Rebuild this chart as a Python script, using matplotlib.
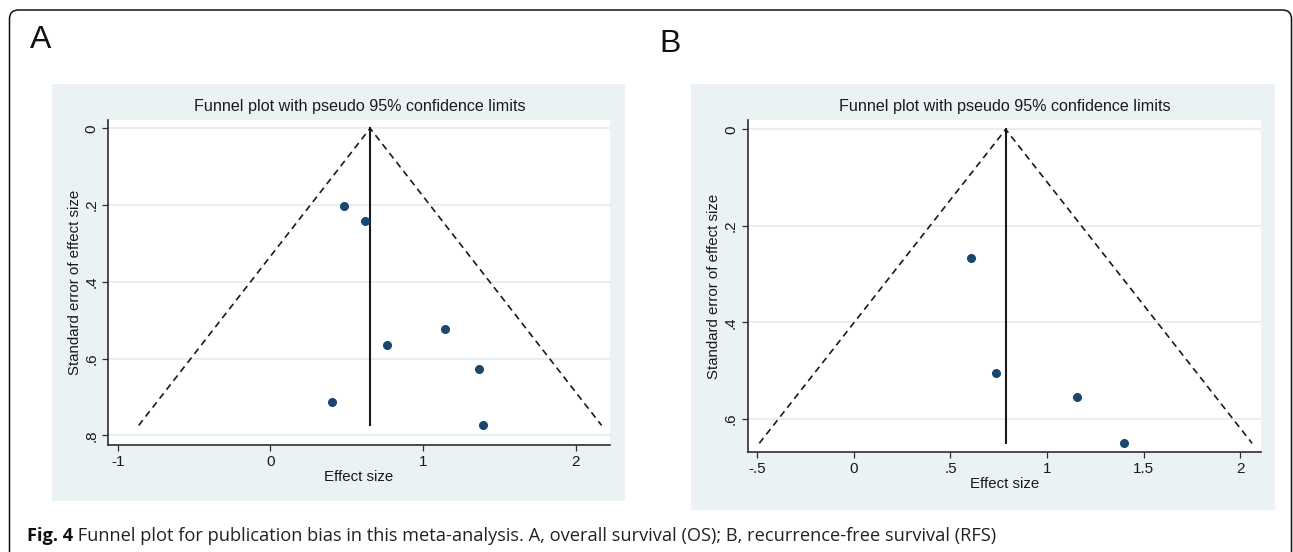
import matplotlib
matplotlib.use("Agg")
import matplotlib.pyplot as plt
from matplotlib.patches import Rectangle, FancyBboxPatch
from matplotlib.transforms import IdentityTransform

# ---------------- data ----------------
# Panel A: overall survival (OS)
a_effect = [0.480, 0.621, 1.142, 0.764, 1.366, 0.406, 1.393]
a_se = [0.203, 0.241, 0.522, 0.564, 0.628, 0.713, 0.774]
a_pooled = 0.654
a_xticks = [-1, 0, 1, 2]
a_xticklabels = ["-1", "0", "1", "2"]
a_yticks = [0, 0.2, 0.4, 0.6, 0.8]
a_yticklabels = ["0", ".2", ".4", ".6", ".8"]

# Panel B: recurrence-free survival (RFS)
b_effect = [0.606, 0.736, 1.157, 1.401]
b_se = [0.266, 0.506, 0.554, 0.651]
b_pooled = 0.786
b_xticks = [-0.5, 0, 0.5, 1, 1.5, 2]
b_xticklabels = ["-.5", "0", ".5", "1", "1.5", "2"]
b_yticks = [0, 0.2, 0.4, 0.6]
b_yticklabels = ["0", ".2", ".4", ".6"]

title_text = "Funnel plot with pseudo 95% confidence limits"
xlabel_text = "Effect size"
ylabel_text = "Standard error of effect size"
caption_bold = "Fig. 4"
caption_text = (" Funnel plot for publication bias in this meta-analysis. "
                "A, overall survival (OS); B, recurrence-free survival (RFS)")

# ---------------- style ----------------
W, H = 1293, 552
BG = "#eaf2f3"
GRID = "#e4eef0"
NAVY = "#1a476f"
INK = "#1a1a1a"
FONT = ["Liberation Sans", "DejaVu Sans"]
plt.rcParams["font.family"] = FONT

fig = plt.figure(figsize=(W / 100, H / 100), dpi=100)
fig.patch.set_facecolor("white")


def frect(x0, y0, x1, y1):
    return [x0 / W, 1 - y1 / H, (x1 - x0) / W, (y1 - y0) / H]


def fx(x):
    return x / W


def fy(y):
    return 1 - y / H


# outer rounded frame
frame = FancyBboxPatch((9.5, -60), 1282, 552 - 10 + 60,
                       boxstyle="round,pad=0,rounding_size=9",
                       fc="none", ec="#111111", lw=1.1,
                       transform=IdentityTransform())
fig.add_artist(frame)


def panel(bg, axrect, xlim, ylim, effect, se, pooled, xt, xtl, yt, ytl,
          title_xy, xlabel_xy, ylabel_xy):
    bx0, by0, bx1, by1 = bg
    fig.add_artist(Rectangle((fx(bx0), fy(by1)), (bx1 - bx0) / W, (by1 - by0) / H,
                             transform=fig.transFigure, fc=BG, ec="none", zorder=0))
    ax = fig.add_axes(frect(*axrect))
    ax.set_facecolor("white")
    ax.set_xlim(*xlim)
    ax.set_ylim(*ylim)
    for s in ("top", "right"):
        ax.spines[s].set_visible(False)
    for s in ("left", "bottom"):
        ax.spines[s].set_color("#2e2e2e")
        ax.spines[s].set_linewidth(1.2)
    ax.set_xticks(xt)
    ax.set_xticklabels(xtl, fontsize=11, color=INK)
    ax.set_yticks(yt)
    ax.set_yticklabels(ytl, fontsize=11, color=INK, rotation=90, va="center")
    ax.tick_params(direction="out", length=4, width=0.9, color="#2e2e2e", pad=3)
    ax.yaxis.grid(True, color=GRID, lw=1.3)
    ax.set_axisbelow(True)

    maxse = max(se)
    half = 1.96 * maxse
    ax.plot([pooled - half, pooled, pooled + half], [maxse, 0, maxse],
            color=INK, lw=1.2, dashes=(4, 2.8), zorder=3)
    ax.plot([pooled, pooled], [0, maxse], color=INK, lw=1.5, zorder=3)
    ax.plot(effect, se, "o", color=NAVY, ms=5.5, mec=NAVY, zorder=4)

    fig.text(fx(title_xy[0]), fy(title_xy[1]), title_text, fontsize=11.6,
             ha="center", va="center", color=INK)
    fig.text(fx(xlabel_xy[0]), fy(xlabel_xy[1]), xlabel_text, fontsize=10.8,
             ha="center", va="center", color=INK)
    fig.text(fx(ylabel_xy[0]), fy(ylabel_xy[1]), ylabel_text, fontsize=10.8,
             ha="center", va="center", rotation=90, color=INK)
    return ax


panel((51.7, 84, 625, 501), (108.3, 119.5, 610, 445),
      (-1.062, 2.226), (0.825, -0.023),
      a_effect, a_se, a_pooled, a_xticks, a_xticklabels, a_yticks, a_yticklabels,
      (360, 107), (359, 477), (75, 282))

panel((690.7, 84, 1275, 510), (747.7, 120.2, 1261, 452),
      (-0.55, 2.108), (0.669, -0.019),
      b_effect, b_se, b_pooled, b_xticks, b_xticklabels, b_yticks, b_yticklabels,
      (1005, 107), (1004.5, 484), (714, 286))

# panel letters
fig.text(fx(40.5), fy(40), "A", fontsize=23, ha="center", va="center", color="#111")
fig.text(fx(670), fy(44), "B", fontsize=23, ha="center", va="center", color="#111")

# caption, fitted to the reference width
cap_font = ["Open Sans", "DejaVu Sans"]
t1 = fig.text(fx(26.8), fy(536), caption_bold, fontsize=10, fontweight="bold",
              family=cap_font, ha="left", va="center", color="#111")
t2 = fig.text(fx(26.8), fy(536), caption_text, fontsize=10,
              family=cap_font, ha="left", va="center", color="#222")
r = fig.canvas.get_renderer()
w_total = t1.get_window_extent(r).width + t2.get_window_extent(r).width
fs = 10 * 973 / w_total
t1.set_fontsize(fs)
t2.set_fontsize(fs)
w1 = t1.get_window_extent(r).width
t2.set_position((fx(26.8 + w1), fy(536)))

fig.savefig("out.png", dpi=100, facecolor="white")
